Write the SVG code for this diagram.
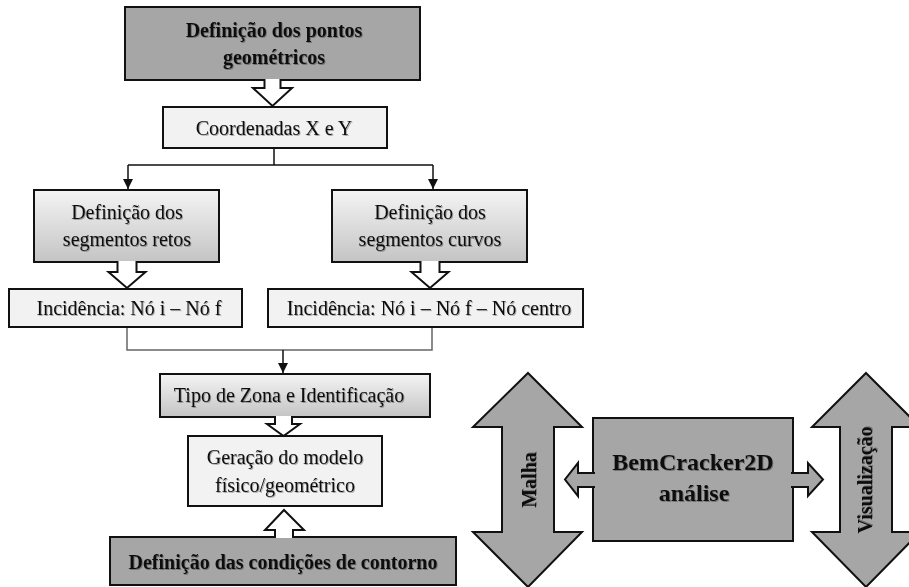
<svg xmlns="http://www.w3.org/2000/svg" width="909" height="587" viewBox="0 0 909 587">
<style>
.t{font-family:"Liberation Serif","Times New Roman",serif;font-size:20px;fill:#111;text-anchor:middle;filter:url(#sh)}
.b{font-weight:bold}
.box{stroke:#111;stroke-width:2}
.dark{fill:#a6a6a6}
.light{fill:#f2f2f2}
.grad{fill:url(#g)}
.hol{fill:#fff;stroke:#111;stroke-width:2;stroke-linejoin:miter}
.garr{fill:#a6a6a6;stroke:#111;stroke-width:2}
.ln{fill:none;stroke:#111;stroke-width:1.5}
.ln2{fill:none;stroke:#666;stroke-width:1.5}
</style>
<defs>
<linearGradient id="g" x1="0" y1="0" x2="0" y2="1">
<stop offset="0" stop-color="#f4f4f4"/>
<stop offset="1" stop-color="#c4c4c4"/>
</linearGradient>
<filter id="sh" x="-5%" y="-20%" width="110%" height="140%">
<feDropShadow dx="1" dy="1" stdDeviation="0.6" flood-color="#000" flood-opacity="0.3"/>
</filter>
<marker id="ah" viewBox="0 0 10 10" refX="10" refY="5" markerWidth="10" markerHeight="10" orient="auto" markerUnits="userSpaceOnUse">
<path d="M0,0 L10,5 L0,10 z" fill="#111"/>
</marker>
</defs>

<g id="connectors">
<path class="ln" d="M274,148 V165 M128,165 H433"/>
<path class="ln" d="M128,165 V189" marker-end="url(#ah)"/>
<path class="ln" d="M433,165 V189" marker-end="url(#ah)"/>
<path class="ln2" d="M127,327 V350 H432 V327"/>
<path class="ln" d="M283,350 V373" marker-end="url(#ah)"/>
</g>

<g id="n-pontos">
<rect class="box dark" x="125" y="7" width="295" height="73"/>
<text class="t b" x="274" y="37">Definição dos pontos</text>
<text class="t b" x="274" y="64">geométricos</text>
</g>

<g id="n-coordenadas">
<rect class="box light" x="163" y="107" width="224" height="41"/>
<text class="t" x="274" y="135">Coordenadas X e Y</text>
</g>

<g id="n-retos">
<rect class="box grad" x="34" y="190" width="185" height="72"/>
<text class="t" x="127" y="219">Definição dos</text>
<text class="t" x="127" y="246">segmentos retos</text>
</g>

<g id="n-curvos">
<rect class="box grad" x="332" y="190" width="195" height="72"/>
<text class="t" x="430" y="219">Definição dos</text>
<text class="t" x="430" y="246">segmentos curvos</text>
</g>

<g id="n-inc1">
<rect class="box light" x="9" y="289" width="233" height="38"/>
<text class="t" x="129" y="315">Incidência: Nó i – Nó f</text>
</g>

<g id="n-inc2">
<rect class="box light" x="268" y="289" width="315" height="38"/>
<text class="t" x="429" y="315">Incidência: Nó i – Nó f – Nó centro</text>
</g>

<g id="n-tipo">
<rect class="box grad" x="160" y="374" width="270" height="43"/>
<text class="t" x="289" y="402">Tipo de Zona e Identificação</text>
</g>

<g id="n-geracao">
<rect class="box light" x="188" y="436" width="194" height="70"/>
<text class="t" x="285" y="464">Geração do modelo</text>
<text class="t" x="285" y="492">físico/geométrico</text>
</g>

<g id="n-contorno">
<rect class="box dark" x="110" y="537" width="346" height="48"/>
<text class="t b" x="283" y="569">Definição das condições de contorno</text>
</g>

<g id="block-arrows">
<path class="hol" d="M264.5,79 V88 H253 L272.5,106 L292,88 H280.5 V79"/>
<path class="hol" d="M117.5,261 V272 H108.5 L127,288 L145.5,272 H136.5 V261"/>
<path class="hol" d="M420.5,261 V272 H411.5 L430,288 L448.5,272 H439.5 V261"/>
<path class="hol" d="M275,416 V424 H267 L283.5,436 L300,424 H292 V416"/>
<path class="hol" d="M275,538 V530 H265 L284,510 L304,530 H293 V538"/>
</g>

<g id="n-malha">
<path class="garr" d="M528,373 L582,427 H554 V532 H582 L528,587 L473,532 H502 V427 H473 Z"/>
<text class="t b" transform="translate(536,480) rotate(-90)">Malha</text>
</g>

<g id="n-visualizacao">
<path class="garr" d="M866,373 L920,427 H892 V532 H920 L866,587 L812,532 H840 V427 H812 Z"/>
<text class="t b" transform="translate(872,480) rotate(-90)">Visualização</text>
</g>

<g id="n-bemcracker">
<rect class="box dark" x="593" y="418" width="200" height="123"/>
<path class="garr" d="M595,473 H578 V463 L565,479.5 L578,496 V487 H595"/>
<path class="garr" d="M791,473 H808 V463 L823,479.5 L808,496 V487 H791"/>
<text class="t b" x="693" y="470" style="font-size:24px">BemCracker2D</text>
<text class="t b" x="694" y="501" style="font-size:24px">análise</text>
</g>
</svg>
